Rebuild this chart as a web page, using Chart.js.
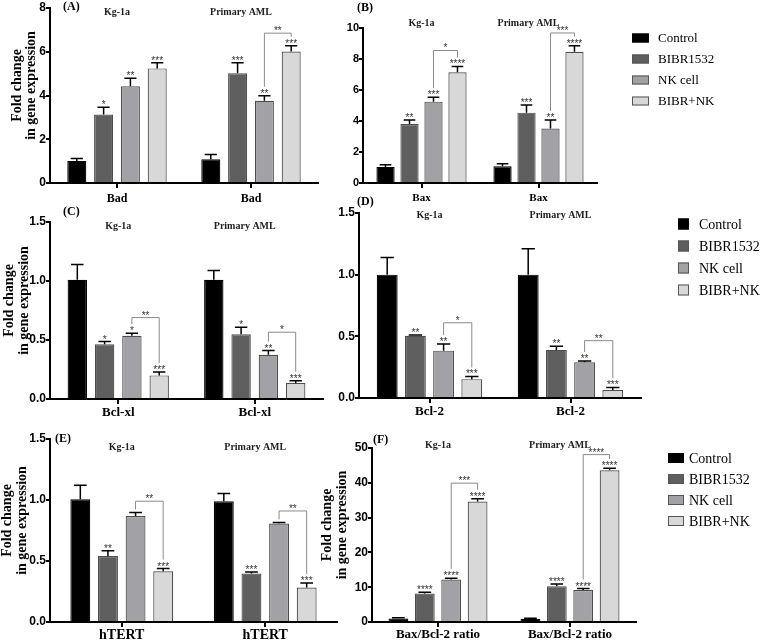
<!DOCTYPE html>
<html>
<head>
<meta charset="utf-8">
<script src="https://cdn.jsdelivr.net/npm/chart.js@4.4.0/dist/chart.umd.min.js"></script>
<style>
body{margin:0;background:#fff;width:765px;height:644px;position:relative;overflow:hidden}
canvas{position:absolute}
</style>
</head>
<body>
<script>
const groups = ['Kg-1a', 'Primary AML']
const treatments = ['Control', 'BIBR1532', 'NK cell', 'BIBR+NK']
const colors = ['#000000', '#5f5f5f', '#a2a2a6', '#d8d8d8']
const yTitle = ['Fold change', 'in gene expression']

// (A) Bad
const badKg = [1.01, 3.13, 4.42, 5.24]
const badKgSd = [0.11, 0.33, 0.37, 0.26]
const badAml = [1.09, 5.02, 3.76, 6.01]
const badAmlSd = [0.21, 0.48, 0.23, 0.26]
const badKgStars = ['', '*', '**', '***']
const badAmlStars = ['', '***', '**', '***']
const badBrackets = [null, ['**', 6.85]]

// (B) Bax
const baxKg = [1.04, 3.8, 5.25, 7.15]
const baxKgSd = [0.13, 0.26, 0.28, 0.37]
const baxAml = [1.08, 4.54, 3.52, 8.47]
const baxAmlSd = [0.17, 0.49, 0.54, 0.39]
const baxKgStars = ['', '**', '***', '****']
const baxAmlStars = ['', '***', '**', '****']
const baxBrackets = [['*', 8.55], ['***', 9.68]]

// (C) Bcl-xl
const bclxlKg = [1.01, 0.465, 0.535, 0.2]
const bclxlKgSd = [0.13, 0.022, 0.022, 0.028]
const bclxlAml = [1.01, 0.549, 0.375, 0.135]
const bclxlAmlSd = [0.08, 0.059, 0.035, 0.02]
const bclxlKgStars = ['', '*', '*', '***']
const bclxlAmlStars = ['', '*', '**', '***']
const bclxlBrackets = [['**', 0.69], ['*', 0.566]]

// (D) Bcl-2
const bcl2Kg = [1.0, 0.505, 0.384, 0.153]
const bcl2KgSd = [0.14, 0.005, 0.053, 0.022]
const bcl2Aml = [1.0, 0.39, 0.29, 0.065]
const bcl2AmlSd = [0.21, 0.03, 0.01, 0.021]
const bcl2KgStars = ['', '**', '**', '***']
const bcl2AmlStars = ['', '**', '**', '***']
const bcl2Brackets = [['*', 0.61], ['**', 0.465]]

// (E) hTERT
const htertKg = [1.007, 0.54, 0.868, 0.416]
const htertKgSd = [0.113, 0.043, 0.03, 0.022]
const htertAml = [0.99, 0.397, 0.807, 0.282]
const htertAmlSd = [0.064, 0.013, 0.009, 0.038]
const htertKgStars = ['', '**', '', '***']
const htertAmlStars = ['', '***', '', '***']
const htertBrackets = [['**', 0.99], ['**', 0.91]]

// (F) Bax/Bcl-2 ratio
const ratioKg = [1.0, 8.2, 12.2, 34.6]
const ratioKgSd = [0.2, 0.35, 0.4, 0.8]
const ratioAml = [0.9, 10.3, 9.2, 43.6]
const ratioAmlSd = [0.2, 0.6, 0.4, 0.6]
const ratioKgStars = ['', '****', '****', '****']
const ratioAmlStars = ['', '****', '****', '****']
const ratioBrackets = [['***', 39.9], ['****', 48.1]]

Chart.defaults.animation = false
Chart.defaults.color = '#000'

const serif = "'Liberation Serif', 'Times New Roman', serif"
const sans = "'Liberation Sans', Arial, sans-serif"

const extras = {
    id: 'extras',
    // y title goes under the tick labels, like in the figure
    beforeDraw(chart, args, o) {
        if (!o.titleAt) return
        const ctx = chart.ctx
        const area = chart.chartArea
        ctx.save()
        ctx.fillStyle = '#000'
        ctx.font = `bold 14px ${serif}`
        ctx.textAlign = 'center'
        ctx.textBaseline = 'middle'
        yTitle.forEach((t, k) => {
            ctx.save()
            ctx.translate(area.left + o.titleAt[k], (area.top + area.bottom) / 2 - 10)
            ctx.rotate(-Math.PI / 2)
            ctx.fillText(t, 0, 0)
            ctx.restore()
        })
        ctx.restore()
    },
    afterDatasetsDraw(chart, args, o) {
        const ctx = chart.ctx
        const y = chart.scales.y
        const x = chart.scales.x
        const area = chart.chartArea
        const legTop = [[], []]
        ctx.save()
        chart.data.datasets.forEach((ds, i) => {
            chart.getDatasetMeta(i).data.forEach((bar, g) => {
                const top = y.getPixelForValue(ds.data[g] + ds.sd[g])
                const half = bar.width * 0.32
                ctx.strokeStyle = '#000'
                ctx.lineWidth = 1.5
                ctx.beginPath()
                ctx.moveTo(bar.x, bar.y)
                ctx.lineTo(bar.x, top)
                ctx.moveTo(bar.x - half, top)
                ctx.lineTo(bar.x + half, top)
                ctx.stroke()
                legTop[g][i] = top - 3
                if (ds.stars[g]) {
                    ctx.fillStyle = '#333'
                    ctx.font = `10px ${sans}`
                    ctx.textAlign = 'center'
                    ctx.textBaseline = 'alphabetic'
                    ctx.fillText(ds.stars[g], bar.x, top + 1)
                    legTop[g][i] = top - 9
                }
            })
        })
        o.brackets.forEach((b, g) => {
            if (!b) return
            const by = y.getPixelForValue(b[1])
            const x1 = chart.getDatasetMeta(2).data[g].x
            const x2 = chart.getDatasetMeta(3).data[g].x
            ctx.strokeStyle = '#8a8a8a'
            ctx.lineWidth = 1
            ctx.beginPath()
            ctx.moveTo(x1, legTop[g][2])
            ctx.lineTo(x1, by)
            ctx.lineTo(x2, by)
            ctx.lineTo(x2, legTop[g][3])
            ctx.stroke()
            ctx.fillStyle = '#333'
            ctx.font = `10px ${sans}`
            ctx.textAlign = 'center'
            ctx.fillText(b[0], (x1 + x2) / 2, by + 1)
        })
        // group names
        ctx.fillStyle = '#222'
        ctx.font = `bold 10px ${serif}`
        ctx.textAlign = 'center'
        ctx.textBaseline = 'middle'
        groups.forEach((name, g) => {
            ctx.fillText(name, x.getPixelForValue(g) - (g ? 10 : 0), area.top + o.groupDy)
        })
        // panel letter
        ctx.fillStyle = '#000'
        ctx.font = `bold 12px ${serif}`
        ctx.textAlign = 'left'
        ctx.fillText(o.letter, area.left + o.letterAt[0], area.top + o.letterAt[1])
        // legend (right-hand panels)
        const lg = o.legend
        if (lg) {
            ctx.font = `${lg.size}px ${serif}`
            ctx.textAlign = 'left'
            ctx.textBaseline = 'middle'
            treatments.forEach((t, i) => {
                const cy = lg.y + i * lg.gap
                ctx.fillStyle = colors[i]
                ctx.strokeStyle = i ? '#555' : '#000'
                ctx.lineWidth = 1
                ctx.fillRect(lg.x, cy - lg.box[1] / 2, lg.box[0], lg.box[1])
                ctx.strokeRect(lg.x + 0.5, cy - lg.box[1] / 2 + 0.5, lg.box[0] - 1, lg.box[1] - 1)
                ctx.fillStyle = '#000'
                ctx.fillText(t, lg.x + lg.textDx, cy + 1)
            })
        }
        ctx.restore()
    }
}

function makePanel(p) {
    const cv = document.createElement('canvas')
    cv.width = p.box[2]
    cv.height = p.box[3]
    cv.style.left = p.box[0] + 'px'
    cv.style.top = p.box[1] + 'px'
    cv.style.width = p.box[2] + 'px'
    cv.style.height = p.box[3] + 'px'
    document.body.appendChild(cv)

    const datasets = treatments.map((t, i) => ({
        label: t,
        data: [p.kg[i], p.aml[i]],
        sd: [p.kgSd[i], p.amlSd[i]],
        stars: [p.kgStars[i], p.amlStars[i]],
        backgroundColor: colors[i],
        borderColor: i ? '#4d4d4d' : '#000',
        borderWidth: 1.2,
        categoryPercentage: p.catPct,
        barPercentage: p.barPct
    }))

    new Chart(cv, {
        type: 'bar',
        data: {
            labels: [p.gene, p.gene],
            datasets: datasets
        },
        options: {
            responsive: false,
            devicePixelRatio: 1,
            layout: {
                padding: {left: 0, top: p.pad[0], right: p.pad[1], bottom: 0}
            },
            scales: {
                x: {
                    ticks: {
                        color: '#000',
                        padding: p.xPad,
                        font: {family: serif, weight: 'bold', size: p.xSize}
                    },
                    grid: {
                        display: true,
                        offset: false,
                        drawOnChartArea: false,
                        tickLength: 5,
                        color: '#000',
                        lineWidth: 2
                    },
                    border: {color: '#000', width: 2},
                    afterFit: s => { s.height = p.xh }
                },
                y: {
                    min: 0,
                    max: p.max,
                    ticks: {
                        stepSize: p.step,
                        color: '#000',
                        padding: 0,
                        autoSkip: false,
                        font: {family: sans, weight: 'bold', size: p.ySize},
                        callback: v => p.step < 1 ? v.toFixed(1) : v
                    },
                    grid: {
                        display: true,
                        drawOnChartArea: false,
                        tickLength: 4,
                        color: '#000',
                        lineWidth: 2
                    },
                    border: {color: '#000', width: 2},
                    afterFit: s => { s.width = p.yw }
                }
            },
            plugins: {
                legend: {display: false},
                tooltip: {enabled: false},
                extras: {
                    brackets: p.brackets,
                    letter: p.letter,
                    letterAt: p.letterAt,
                    groupDy: p.groupDy,
                    titleAt: p.titleAt,
                    legend: p.legend
                }
            }
        },
        plugins: [extras]
    })
}

makePanel({gene: 'Bad', letter: '(A)', box: [0, 0, 335, 212], pad: [8, 17], yw: 50, xh: 29, xPad: 4,
    max: 8, step: 2, ySize: 12, xSize: 12, catPct: 0.8, barPct: 0.71,
    kg: badKg, kgSd: badKgSd, aml: badAml, amlSd: badAmlSd,
    kgStars: badKgStars, amlStars: badAmlStars, brackets: badBrackets,
    letterAt: [13, -1], groupDy: 4, titleAt: [-33, -19]})

makePanel({gene: 'Bax', letter: '(B)', box: [335, 0, 430, 212], pad: [28, 168], yw: 28, xh: 29, xPad: 4,
    max: 10, step: 2, ySize: 11, xSize: 11, catPct: 0.82, barPct: 0.76,
    kg: baxKg, kgSd: baxKgSd, aml: baxAml, amlSd: baxAmlSd,
    kgStars: baxKgStars, amlStars: baxAmlStars, brackets: baxBrackets,
    letterAt: [-6, -20], groupDy: -5, titleAt: null,
    legend: {x: 297, y: 38, gap: 21, box: [17, 9], textDx: 26, size: 13}})

makePanel({gene: 'Bcl-xl', letter: '(C)', box: [0, 205, 335, 220], pad: [17, 12], yw: 50, xh: 26, xPad: 1,
    max: 1.5, step: 0.5, ySize: 12, xSize: 13, catPct: 0.8, barPct: 0.71,
    kg: bclxlKg, kgSd: bclxlKgSd, aml: bclxlAml, amlSd: bclxlAmlSd,
    kgStars: bclxlKgStars, amlStars: bclxlAmlStars, brackets: bclxlBrackets,
    letterAt: [13, -10], groupDy: 4, titleAt: [-41, -26]})

makePanel({gene: 'Bcl-2', letter: '(D)', box: [335, 188, 430, 237], pad: [25, 124], yw: 24, xh: 27, xPad: 1,
    max: 1.5, step: 0.5, ySize: 12, xSize: 13, catPct: 0.8, barPct: 0.74,
    kg: bcl2Kg, kgSd: bcl2KgSd, aml: bcl2Aml, amlSd: bcl2AmlSd,
    kgStars: bcl2KgStars, amlStars: bcl2AmlStars, brackets: bcl2Brackets,
    letterAt: [-2, -11], groupDy: 2, titleAt: null,
    legend: {x: 343, y: 36, gap: 22, box: [11, 11], textDx: 21, size: 14}})

makePanel({gene: 'hTERT', letter: '(E)', box: [0, 424, 345, 220], pad: [15, 8], yw: 50, xh: 22, xPad: 0,
    max: 1.5, step: 0.5, ySize: 12, xSize: 14, catPct: 0.77, barPct: 0.72,
    kg: htertKg, kgSd: htertKgSd, aml: htertAml, amlSd: htertAmlSd,
    kgStars: htertKgStars, amlStars: htertAmlStars, brackets: htertBrackets,
    letterAt: [5, 0], groupDy: 8, titleAt: [-43, -28]})

makePanel({gene: 'Bax/Bcl-2 ratio', letter: '(F)', box: [300, 424, 465, 220], pad: [24, 129], yw: 72, xh: 22, xPad: 0,
    max: 50, step: 10, ySize: 12, xSize: 13, catPct: 0.8, barPct: 0.75,
    kg: ratioKg, kgSd: ratioKgSd, aml: ratioAml, amlSd: ratioAmlSd,
    kgStars: ratioKgStars, amlStars: ratioAmlStars, brackets: ratioBrackets,
    letterAt: [1, -8], groupDy: -3, titleAt: [-45, -30],
    legend: {x: 368, y: 34, gap: 21, box: [16, 10], textDx: 21, size: 14}})
</script>
</body>
</html>
